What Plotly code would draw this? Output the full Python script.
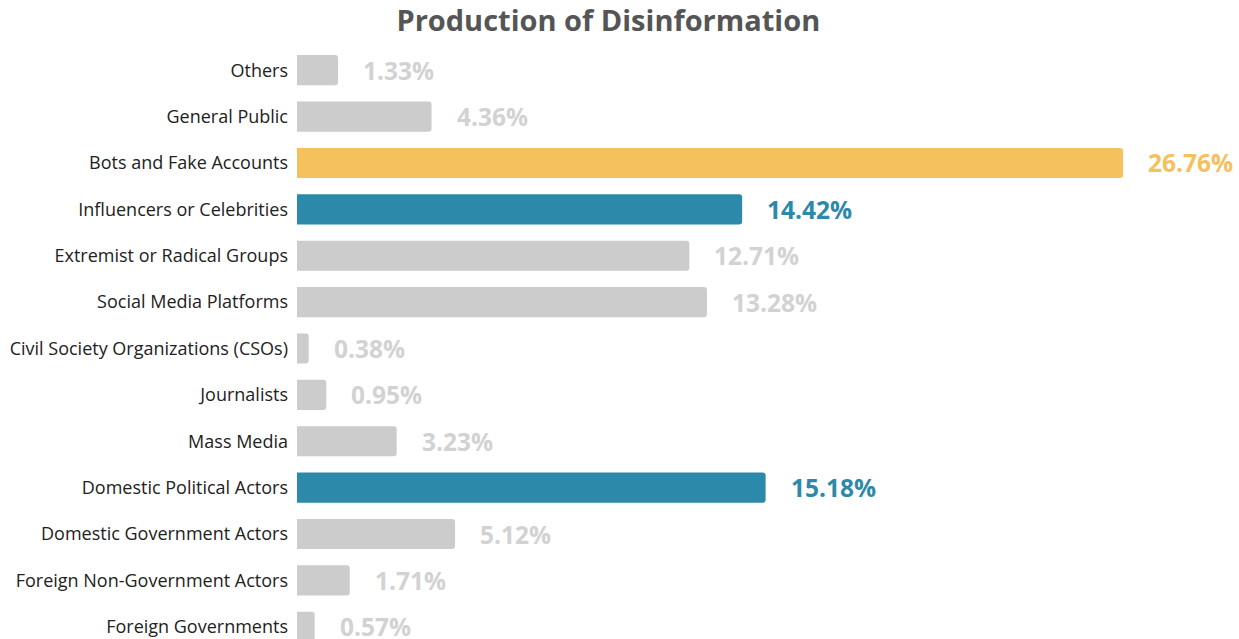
import plotly.graph_objects as go

categories = [
    "Others", "General Public", "Bots and Fake Accounts", "Influencers or Celebrities",
    "Extremist or Radical Groups", "Social Media Platforms", "Civil Society Organizations (CSOs)",
    "Journalists", "Mass Media", "Domestic Political Actors", "Domestic Government Actors",
    "Foreign Non-Government Actors", "Foreign Governments",
]
values = [1.33, 4.36, 26.76, 14.42, 12.71, 13.28, 0.38, 0.95, 3.23, 15.18, 5.12, 1.71, 0.57]
highlight = ["gray", "gray", "yellow", "blue", "gray", "gray", "gray", "gray", "gray", "blue", "gray", "gray", "gray"]

bar_colors = {"gray": "#cccccc", "yellow": "#f5c15c", "blue": "#2d89aa"}
text_colors = {"gray": "#d2d2d2", "yellow": "#f5c15c", "blue": "#2d89aa"}

FONT = "Open Sans"

fig = go.Figure()
fig.add_trace(go.Bar(
    y=categories, x=values, orientation="h",
    marker=dict(color=[bar_colors[h] for h in highlight], cornerradius=3, line=dict(width=0)),
    width=0.65, hoverinfo="skip",
))

for c, v, h in zip(categories, values, highlight):
    fig.add_annotation(
        x=v, y=c, text=f"<b>{v:.2f}%</b>", showarrow=False,
        xanchor="left", yanchor="middle", xshift=23, yshift=0,
        font=dict(family=FONT, size=24.5, color=text_colors[h]),
    )

fig.update_layout(
    width=1239, height=639,
    margin=dict(l=297, r=0, t=47, b=0, autoexpand=False),
    paper_bgcolor="white", plot_bgcolor="white",
    showlegend=False,
    title=dict(text="<b>Production of Disinformation</b>", x=0.491, xanchor="center",
               y=0.967, yanchor="middle",
               font=dict(family=FONT, size=29, color="#555555")),
)
fig.update_xaxes(range=[0, 30.515], visible=False, fixedrange=True, automargin=False)
fig.update_yaxes(
    type="category", categoryorder="array", categoryarray=categories,
    range=[12.263, -0.5], showgrid=False, zeroline=False, showline=False,
    ticks="", ticklabelstandoff=8, automargin=False, fixedrange=True,
    tickfont=dict(family=FONT, size=18, color="#222222"),
)

fig.write_html(
    "out.html",
    config={"displayModeBar": False},
    post_script="document.body.style.margin='0';document.body.style.overflow='hidden';",
)
